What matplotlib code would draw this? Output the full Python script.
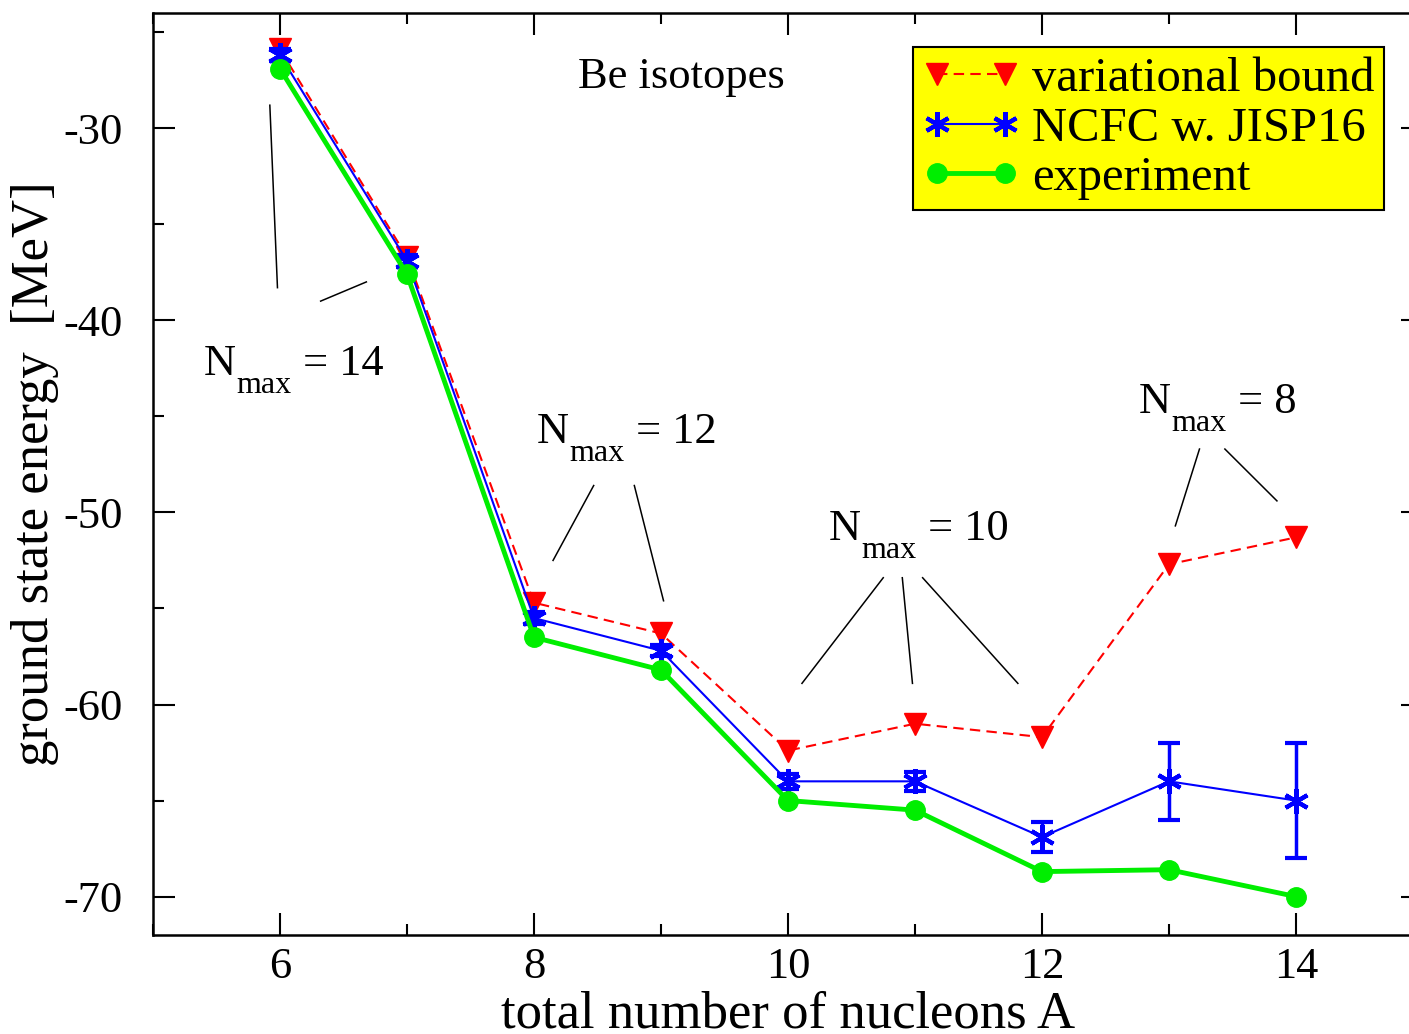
import matplotlib
matplotlib.use("Agg")
import matplotlib.pyplot as plt
from matplotlib.lines import Line2D
from matplotlib.ticker import MultipleLocator
from matplotlib.transforms import offset_copy

plt.rcParams['font.family'] = ['Liberation Serif', 'DejaVu Serif']
plt.rcParams['axes.unicode_minus'] = False

# Be isotopes, ground state energies in MeV
A = [6, 7, 8, 9, 10, 11, 12, 13, 14]
var_bound = [-25.9, -36.7, -54.7, -56.3, -62.4, -61.0, -61.7, -52.7, -51.3]
ncfc = [-26.2, -36.9, -55.5, -57.2, -64.0, -64.0, -66.9, -64.0, -65.0]
ncfc_err = [0.3, 0.3, 0.3, 0.3, 0.4, 0.5, 0.8, 2.0, 3.0]
experiment = [-26.9, -37.6, -56.5, -58.2, -65.0, -65.5, -68.7, -68.6, -70.0]

# N_max labels: value, x, y of the baseline
nmax_vals = [14, 12, 10, 8]
nmax_x = [5.40, 8.02, 10.32, 12.76]
nmax_y = [-42.85, -46.4, -51.45, -44.85]

# leader lines from the N_max labels, (x0, y0, x1, y1) in data units
leaders_14 = [(5.92, -28.8, 5.98, -38.3), (6.32, -39.0, 6.68, -38.0)]
leaders_12 = [(8.47, -48.6, 8.15, -52.5), (8.79, -48.6, 9.02, -54.6)]
leaders_10 = [(10.75, -53.4, 10.11, -58.9), (10.90, -53.4, 10.98, -58.9),
              (11.06, -53.4, 11.81, -58.9)]
leaders_8 = [(13.24, -46.7, 13.05, -50.7), (13.44, -46.7, 13.85, -49.4)]

fig = plt.figure(figsize=(14.09, 10.34), dpi=100)
ax = fig.add_axes([153 / 1409, 1 - 935 / 1034, 1270 / 1409, 922 / 1034])

star = (6, 2, 0)
ax.plot(A, var_bound, color='red', ls='--', lw=1.5, dashes=(5, 3),
        marker='v', ms=16, mec='red', mfc='red', zorder=3)
ax.errorbar(A, ncfc, yerr=ncfc_err, color='blue', lw=1.5, marker=star,
            ms=18, mew=3, elinewidth=2.5, capsize=8, capthick=2.5, zorder=4)
ax.plot(A, experiment, color='#00ee00', lw=3.5, marker='o', ms=14, zorder=5)

for seg in leaders_14 + leaders_12 + leaders_10 + leaders_8:
    ax.plot([seg[0], seg[2]], [seg[1], seg[3]], color='black', lw=1.1, zorder=2)

fs = 32
ax.text(8.35, -27.9, 'Be isotopes', fontsize=fs)

# N with a lowered "max" subscript, then "= n"
for v, x, y in zip(nmax_vals, nmax_x, nmax_y):
    ax.text(x, y, 'N', fontsize=fs)
    sub = offset_copy(ax.transData, fig=fig, x=33, y=-18, units='dots')
    ax.text(x, y, 'max', fontsize=23, transform=sub)
    rest = offset_copy(ax.transData, fig=fig, x=99, y=0, units='dots')
    ax.text(x, y, '= %d' % v, fontsize=fs, transform=rest)

ax.set_xlim(5, 15)
ax.set_ylim(-72, -24)
ax.xaxis.set_major_locator(MultipleLocator(2))
ax.xaxis.set_minor_locator(MultipleLocator(1))
ax.yaxis.set_major_locator(MultipleLocator(10))
ax.yaxis.set_minor_locator(MultipleLocator(5))
ax.tick_params(which='both', direction='in', top=True, right=True, width=1.5)
ax.tick_params(which='major', length=16)
ax.tick_params(which='minor', length=8)
ax.tick_params(axis='x', labelsize=fs, pad=9)
ax.tick_params(axis='y', labelsize=fs, pad=22)
for sp in ax.spines.values():
    sp.set_linewidth(1.8)

ax.set_xlabel('total number of nucleons A', fontsize=38, labelpad=2)
ax.set_ylabel('ground state energy  [MeV]', fontsize=38, labelpad=3)

handles = [
    Line2D([], [], color='red', ls='--', lw=1.5, dashes=(5, 3), marker='v',
           ms=16, mec='red', mfc='red'),
    Line2D([], [], color='blue', lw=1.5, marker=star, ms=18, mew=3),
    Line2D([], [], color='#00ee00', lw=3.5, marker='o', ms=14),
]
labels = ['variational bound', 'NCFC w. JISP16', 'experiment']
leg = ax.legend(handles, labels, loc='upper left',
                bbox_to_anchor=(913 / 1409, 1 - 47 / 1034),
                bbox_transform=fig.transFigure, borderaxespad=0, fontsize=35,
                numpoints=2, handlelength=2.0, handletextpad=0.25,
                labelspacing=0.12, borderpad=0.2, fancybox=False,
                framealpha=1, facecolor='yellow', edgecolor='black')
leg.get_frame().set_linewidth(1.5)

fig.savefig('out.png', dpi=100)
